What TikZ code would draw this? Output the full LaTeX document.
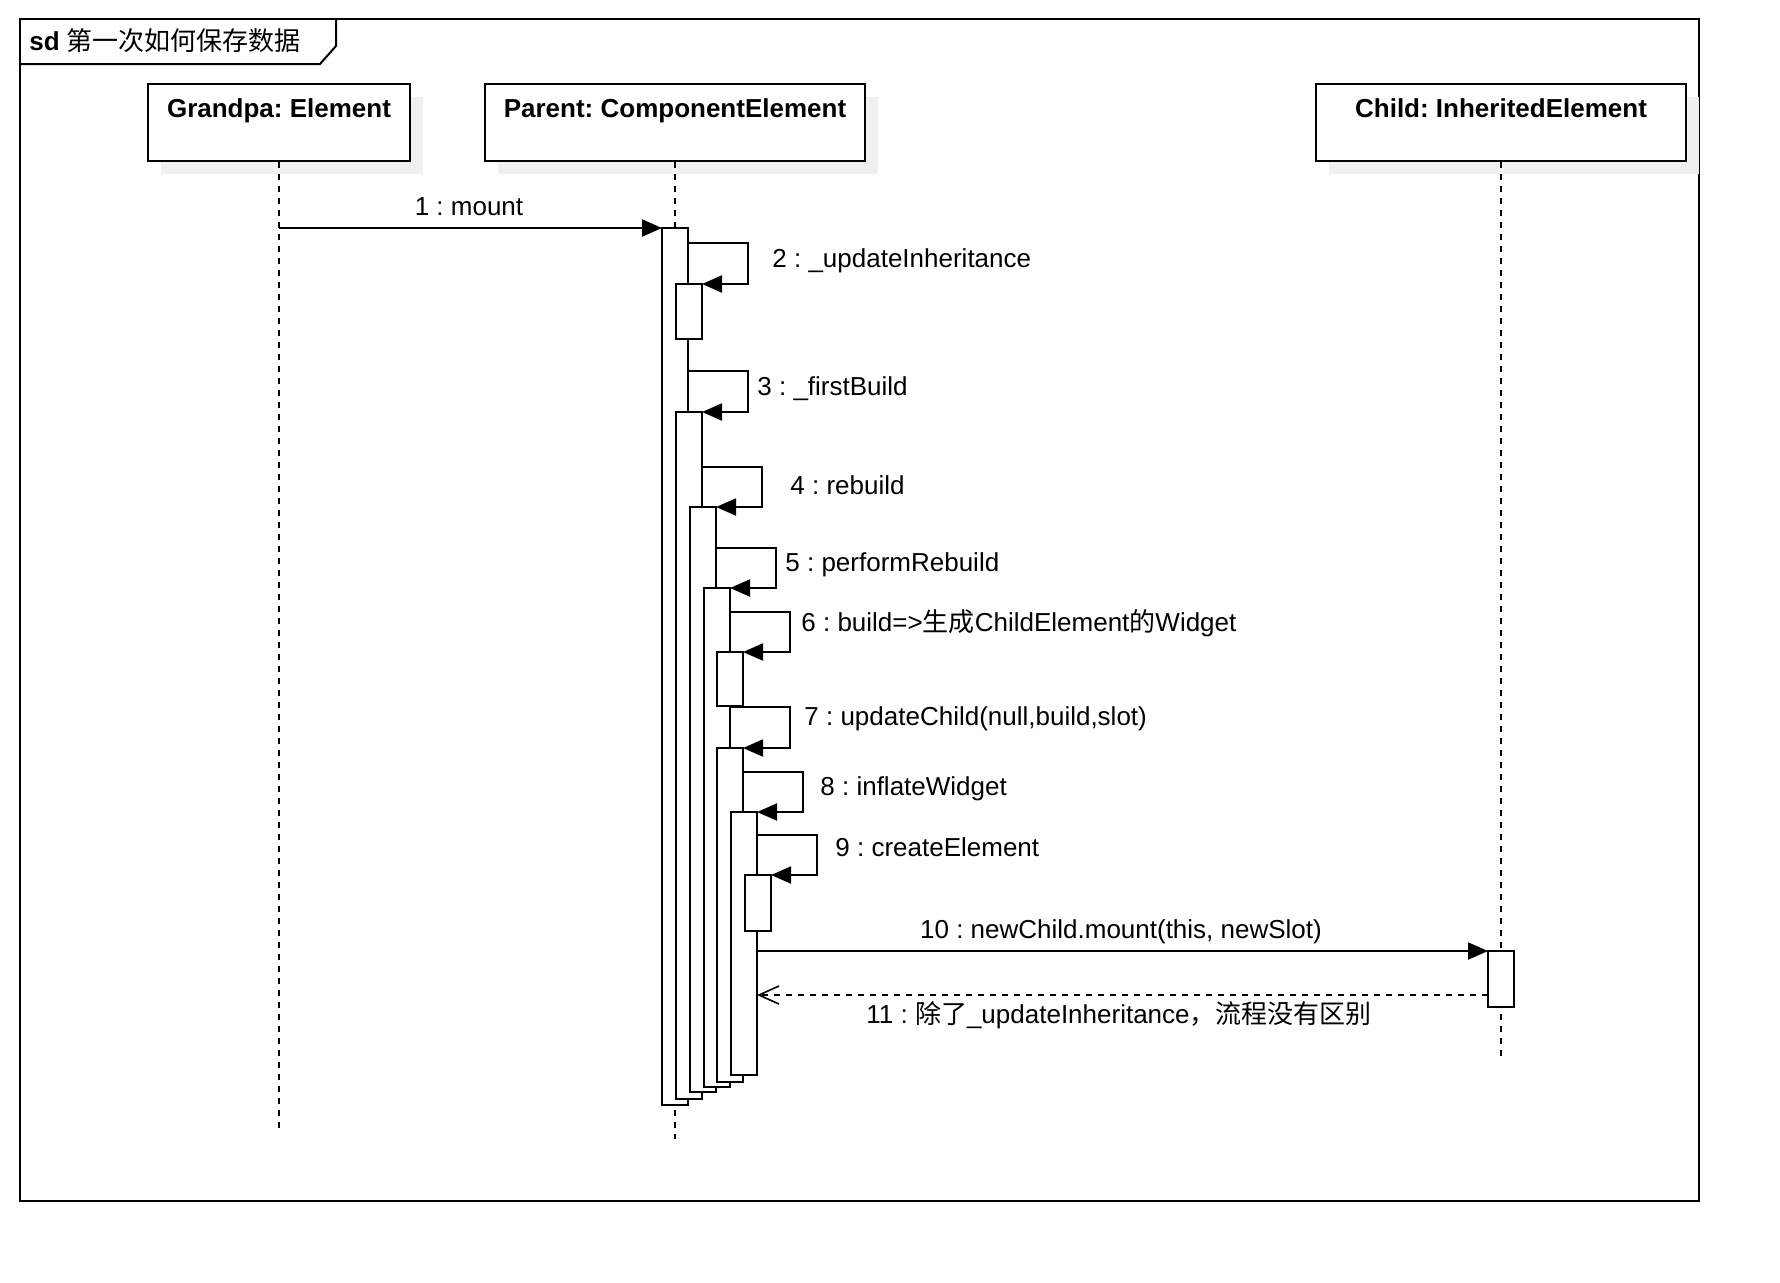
\documentclass[tikz,border=0pt]{standalone}
\usepackage{fontspec}
\setmainfont{Liberation Sans}
\newfontfamily\cjk{Noto Sans CJK SC}
\usetikzlibrary{arrows.meta,shadows}
\frenchspacing

\begin{document}
\begin{tikzpicture}[
x=0.5pt, y=-0.5pt,
font=\fontsize{13pt}{15pt}\selectfont,
lifebox/.style={draw, line width=1pt, fill=white, minimum height=38.5pt, inner sep=0pt, general shadow={fill=black!6, shadow xshift=6.5pt, shadow yshift=-6.5pt}},
act/.style={draw, line width=1pt, fill=white, minimum width=13pt, inner sep=0pt, outer sep=0pt, anchor=north},
lifeline/.style={line width=0.8pt, dash pattern=on 3pt off 3pt},
msg/.style={line width=1pt, -{Triangle[length=10pt, width=8.5pt]}},
ret/.style={line width=0.8pt, dash pattern=on 3pt off 3pt, -{Straight Barb[length=10pt, width=9pt]}},
lbl/.style={anchor=west, inner sep=0pt}
]
\useasboundingbox (0,0) rectangle (1780,1282);

% frame
\draw[line width=1pt] (20,19) rectangle (1699,1201);
\draw[line width=1pt] (20,64) -- (320,64) -- (336,46) -- (336,19);
\node[lbl] (title) at (29,41) {\textbf{sd} {\cjk 第一次如何保存数据}};

% lifelines
\node[lifebox, minimum width=131pt, label={[anchor=north, inner sep=0pt, yshift=-7.5pt, font=\fontsize{13pt}{15pt}\selectfont\bfseries]north:{Grandpa: Element}}] (gp) at (279,122.5) {};
\node[lifebox, minimum width=190pt, label={[anchor=north, inner sep=0pt, yshift=-7.5pt, font=\fontsize{13pt}{15pt}\selectfont\bfseries]north:{Parent: ComponentElement}}] (pa) at (675,122.5) {};
\node[lifebox, minimum width=185pt, label={[anchor=north, inner sep=0pt, yshift=-7.5pt, font=\fontsize{13pt}{15pt}\selectfont\bfseries]north:{Child: InheritedElement}}] (ch) at (1501,122.5) {};
\draw[lifeline] (gp.south) -- (gp.south |- 0,1130);
\draw[lifeline] (pa.south) -- (pa.south |- 0,1139);
\draw[lifeline] (ch.south) -- (ch.south |- 0,1056);

% activations
\node[act, minimum height=438.5pt] (a1) at (675,228) {};
\node[act, minimum height=27.5pt] (a2) at (689,284) {};
\node[act, minimum height=343.5pt] (a3) at (689,412) {};
\node[act, minimum height=292.5pt] (a4) at (703,507) {};
\node[act, minimum height=249.5pt] (a5) at (717,588) {};
\node[act, minimum height=27pt] (a6) at (730,652) {};
\node[act, minimum height=167pt] (a7) at (730,748) {};
\node[act, minimum height=131.5pt] (a8) at (744,812) {};
\node[act, minimum height=28pt] (a9) at (758,875) {};
\node[act, minimum height=28pt] (c1) at (1501,951) {};

% messages
\draw[msg] (gp |- a1.north) -- (a1.north west);
\draw[msg] (a1.east |- 0,243) -- ++(60,0) |- (a2.north east);
\draw[msg] (a1.east |- 0,371) -- ++(60,0) |- (a3.north east);
\draw[msg] (a3.east |- 0,467) -- ++(60,0) |- (a4.north east);
\draw[msg] (a4.east |- 0,548) -- ++(60,0) |- (a5.north east);
\draw[msg] (a5.east |- 0,612) -- ++(60,0) |- (a6.north east);
\draw[msg] (a5.east |- 0,707) -- ++(60,0) |- (a7.north east);
\draw[msg] (a7.east |- 0,772) -- ++(60,0) |- (a8.north east);
\draw[msg] (a8.east |- 0,835) -- ++(60,0) |- (a9.north east);
\draw[msg] (a8.east |- c1.north) -- (c1.north west);
\draw[ret] (c1.west |- 0,995) -- (a8.east |- 0,995);

% labels
\node (m1) at (469,207) {1 : mount};
\node[lbl] (m2) at (772,261) {2 : \_updateInheritance};
\node[lbl] (m3) at (757,389) {3 : \_firstBuild};
\node[lbl] (m4) at (790,485) {4 : rebuild};
\node[lbl] (m5) at (785,565) {5 : performRebuild};
\node[lbl] (m6) at (801,623) {6 : build=>{\cjk 生成}ChildElement{\cjk 的}Widget};
\node[lbl] (m7) at (804,719) {7 : updateChild(null,build,slot)};
\node[lbl] (m8) at (820,789) {8 : inflateWidget};
\node[lbl] (m9) at (835,847) {9 : createElement};
\node (m10) at (1121,932) {10 : newChild.mount(this, newSlot)};
\node (m11) at (1119,1015) {11 : {\cjk 除了}\_updateInheritance{\cjk ，流程没有区别}};
\end{tikzpicture}
\end{document}
